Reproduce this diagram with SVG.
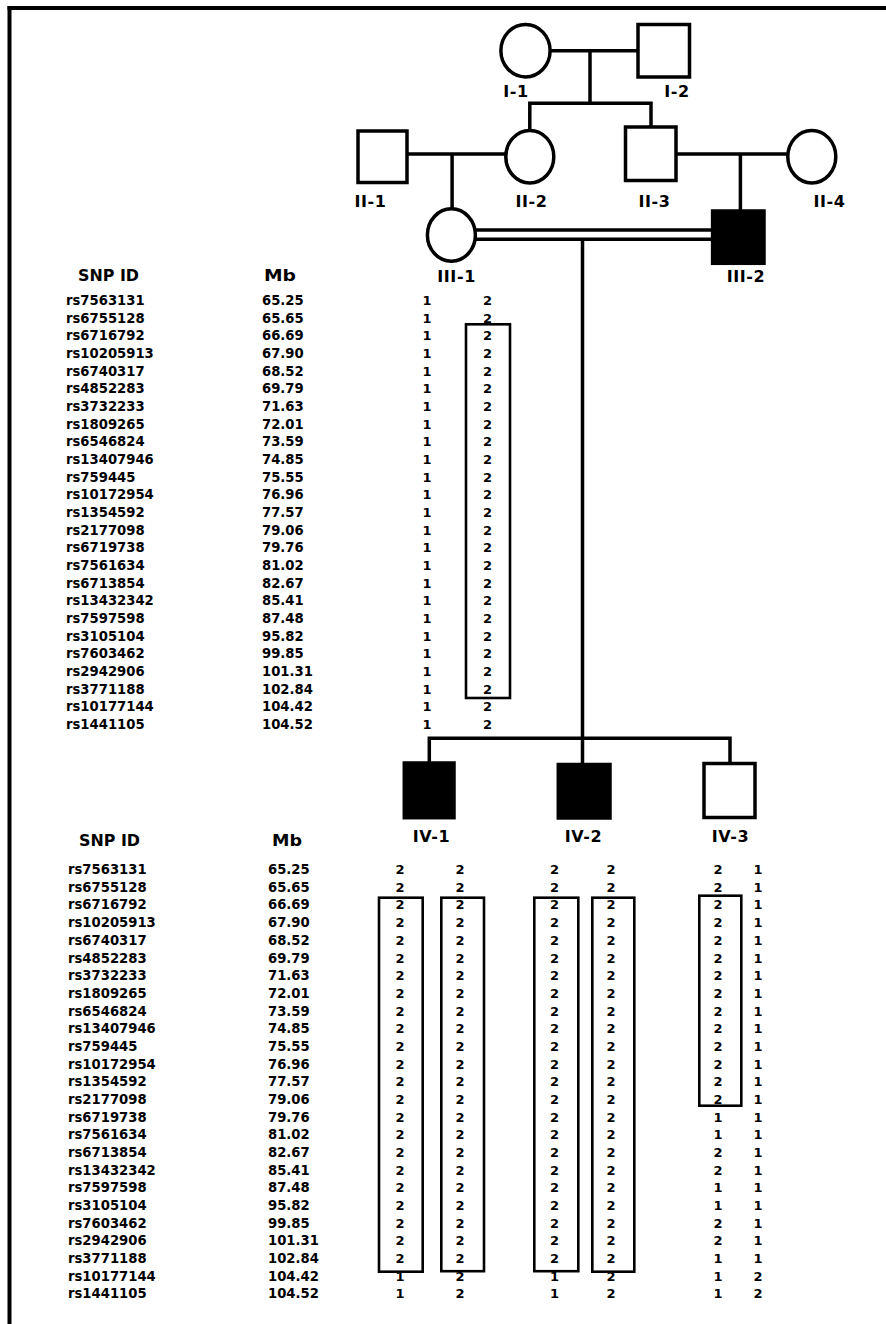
<svg xmlns="http://www.w3.org/2000/svg" width="886" height="1324" viewBox="0 0 886 1324">
<style>
.sh{fill:#fff;stroke:#000;stroke-width:3.5}
.af{fill:#000;stroke:#000;stroke-width:3.5}
.ln{fill:none;stroke:#000;stroke-width:3.5}
.bx{fill:none;stroke:#000;stroke-width:2.6}
.lb{font-family:"DejaVu Sans",Verdana,sans-serif;font-weight:bold;font-size:16px;letter-spacing:0.6px;fill:#000;text-anchor:middle}
.t{font-family:"DejaVu Sans",Verdana,sans-serif;font-weight:bold;font-size:13.2px;fill:#000}
.h{font-family:"DejaVu Sans",Verdana,sans-serif;font-weight:bold;font-size:15.5px;fill:#000}
.g{font-family:"DejaVu Sans",Verdana,sans-serif;font-weight:bold;font-size:13px;fill:#000;text-anchor:middle}
</style>
<rect width="886" height="1324" fill="#fff"/>
<g id="frame">
<line x1="7.5" y1="8" x2="886" y2="8" stroke="#000" stroke-width="4"/>
<line x1="9.5" y1="6" x2="9.5" y2="1324" stroke="#000" stroke-width="4"/>
</g>
<g id="connectors">
<polyline class="ln" points="551,50.7 638,50.7"/>
<polyline class="ln" points="590,50.7 590,103.3"/>
<polyline class="ln" points="529.8,130 529.8,103.3 651,103.3 651,126.7"/>
<polyline class="ln" points="407,154 505.4,154"/>
<polyline class="ln" points="452.1,154 452.1,208.3"/>
<polyline class="ln" points="676,154 787.4,154"/>
<polyline class="ln" points="740.4,154 740.4,210.7"/>
<polyline class="ln" points="475.8,230 712.6,230"/>
<polyline class="ln" points="475.8,239.3 712.6,239.3"/>
<polyline class="ln" points="582.5,239.3 582.5,764.3"/>
<polyline class="ln" points="429.3,762.7 429.3,738.3 730,738.3 730,763.3"/>
</g>
<g id="I-1"><ellipse class="sh" cx="525.5" cy="50.7" rx="24.6" ry="26.2"/><text class="lb" x="516" y="97">I-1</text></g>
<g id="I-2"><rect class="sh" x="638" y="24.5" width="51.5" height="52.5"/><text class="lb" x="677" y="97">I-2</text></g>
<g id="II-1"><rect class="sh" x="358" y="131" width="49" height="51.5"/><text class="lb" x="370.5" y="206.5">II-1</text></g>
<g id="II-2"><ellipse class="sh" cx="529.8" cy="156.7" rx="24" ry="26.2"/><text class="lb" x="531.5" y="206.5">II-2</text></g>
<g id="II-3"><rect class="sh" x="625.5" y="127" width="50.5" height="53.5"/><text class="lb" x="654.5" y="206.5">II-3</text></g>
<g id="II-4"><ellipse class="sh" cx="811.8" cy="156.7" rx="24" ry="26.2"/><text class="lb" x="829.5" y="206.5">II-4</text></g>
<g id="III-1"><ellipse class="sh" cx="451.4" cy="235" rx="24" ry="26.2"/><text class="lb" x="456.6" y="282">III-1</text></g>
<g id="III-2"><rect class="af" x="712.6" y="211" width="51.4" height="52.3"/><text class="lb" x="746" y="281.5">III-2</text></g>
<g id="IV-1"><rect class="af" x="404.3" y="763" width="49.7" height="54.7"/><text class="lb" x="431.5" y="841.5">IV-1</text></g>
<g id="IV-2"><rect class="af" x="558.3" y="764.5" width="51.7" height="53.5"/><text class="lb" x="583.5" y="841.5">IV-2</text></g>
<g id="IV-3"><rect class="sh" x="704" y="763.5" width="51" height="54"/><text class="lb" x="730.5" y="841.5">IV-3</text></g>
<g id="table-top">
<text class="h" x="78" y="280.5" textLength="61" lengthAdjust="spacingAndGlyphs">SNP ID</text>
<text class="h" x="264" y="280.5" textLength="32" lengthAdjust="spacingAndGlyphs">Mb</text>
<text class="t"><tspan x="66" y="304.8">rs7563131</tspan><tspan x="66" y="322.5">rs6755128</tspan><tspan x="66" y="340.1">rs6716792</tspan><tspan x="66" y="357.8">rs10205913</tspan><tspan x="66" y="375.5">rs6740317</tspan><tspan x="66" y="393.2">rs4852283</tspan><tspan x="66" y="410.8">rs3732233</tspan><tspan x="66" y="428.5">rs1809265</tspan><tspan x="66" y="446.2">rs6546824</tspan><tspan x="66" y="463.8">rs13407946</tspan><tspan x="66" y="481.5">rs759445</tspan><tspan x="66" y="499.2">rs10172954</tspan><tspan x="66" y="516.8">rs1354592</tspan><tspan x="66" y="534.5">rs2177098</tspan><tspan x="66" y="552.2">rs6719738</tspan><tspan x="66" y="569.9">rs7561634</tspan><tspan x="66" y="587.5">rs6713854</tspan><tspan x="66" y="605.2">rs13432342</tspan><tspan x="66" y="622.9">rs7597598</tspan><tspan x="66" y="640.5">rs3105104</tspan><tspan x="66" y="658.2">rs7603462</tspan><tspan x="66" y="675.9">rs2942906</tspan><tspan x="66" y="693.5">rs3771188</tspan><tspan x="66" y="711.2">rs10177144</tspan><tspan x="66" y="728.9">rs1441105</tspan></text>
<text class="t"><tspan x="262" y="304.8">65.25</tspan><tspan x="262" y="322.5">65.65</tspan><tspan x="262" y="340.1">66.69</tspan><tspan x="262" y="357.8">67.90</tspan><tspan x="262" y="375.5">68.52</tspan><tspan x="262" y="393.2">69.79</tspan><tspan x="262" y="410.8">71.63</tspan><tspan x="262" y="428.5">72.01</tspan><tspan x="262" y="446.2">73.59</tspan><tspan x="262" y="463.8">74.85</tspan><tspan x="262" y="481.5">75.55</tspan><tspan x="262" y="499.2">76.96</tspan><tspan x="262" y="516.8">77.57</tspan><tspan x="262" y="534.5">79.06</tspan><tspan x="262" y="552.2">79.76</tspan><tspan x="262" y="569.9">81.02</tspan><tspan x="262" y="587.5">82.67</tspan><tspan x="262" y="605.2">85.41</tspan><tspan x="262" y="622.9">87.48</tspan><tspan x="262" y="640.5">95.82</tspan><tspan x="262" y="658.2">99.85</tspan><tspan x="262" y="675.9">101.31</tspan><tspan x="262" y="693.5">102.84</tspan><tspan x="262" y="711.2">104.42</tspan><tspan x="262" y="728.9">104.52</tspan></text>
<text class="g" x="427 427 427 427 427 427 427 427 427 427 427 427 427 427 427 427 427 427 427 427 427 427 427 427 427" y="304.8 322.5 340.1 357.8 375.5 393.2 410.8 428.5 446.2 463.8 481.5 499.2 516.8 534.5 552.2 569.9 587.5 605.2 622.9 640.5 658.2 675.9 693.5 711.2 728.9">1111111111111111111111111</text>
<text class="g" x="487.5 487.5 487.5 487.5 487.5 487.5 487.5 487.5 487.5 487.5 487.5 487.5 487.5 487.5 487.5 487.5 487.5 487.5 487.5 487.5 487.5 487.5 487.5 487.5 487.5" y="304.8 322.5 340.1 357.8 375.5 393.2 410.8 428.5 446.2 463.8 481.5 499.2 516.8 534.5 552.2 569.9 587.5 605.2 622.9 640.5 658.2 675.9 693.5 711.2 728.9">2222222222222222222222222</text>
<rect class="bx" x="466" y="324.3" width="44" height="373.7"/>
</g>
<g id="table-bottom">
<text class="h" x="79" y="845.5" textLength="61" lengthAdjust="spacingAndGlyphs">SNP ID</text>
<text class="h" x="272" y="845.5" textLength="30" lengthAdjust="spacingAndGlyphs">Mb</text>
<text class="t"><tspan x="68" y="874.1">rs7563131</tspan><tspan x="68" y="891.8">rs6755128</tspan><tspan x="68" y="909.4">rs6716792</tspan><tspan x="68" y="927.1">rs10205913</tspan><tspan x="68" y="944.8">rs6740317</tspan><tspan x="68" y="962.5">rs4852283</tspan><tspan x="68" y="980.1">rs3732233</tspan><tspan x="68" y="997.8">rs1809265</tspan><tspan x="68" y="1015.5">rs6546824</tspan><tspan x="68" y="1033.1">rs13407946</tspan><tspan x="68" y="1050.8">rs759445</tspan><tspan x="68" y="1068.5">rs10172954</tspan><tspan x="68" y="1086.1">rs1354592</tspan><tspan x="68" y="1103.8">rs2177098</tspan><tspan x="68" y="1121.5">rs6719738</tspan><tspan x="68" y="1139.2">rs7561634</tspan><tspan x="68" y="1156.8">rs6713854</tspan><tspan x="68" y="1174.5">rs13432342</tspan><tspan x="68" y="1192.2">rs7597598</tspan><tspan x="68" y="1209.8">rs3105104</tspan><tspan x="68" y="1227.5">rs7603462</tspan><tspan x="68" y="1245.2">rs2942906</tspan><tspan x="68" y="1262.8">rs3771188</tspan><tspan x="68" y="1280.5">rs10177144</tspan><tspan x="68" y="1298.2">rs1441105</tspan></text>
<text class="t"><tspan x="268" y="874.1">65.25</tspan><tspan x="268" y="891.8">65.65</tspan><tspan x="268" y="909.4">66.69</tspan><tspan x="268" y="927.1">67.90</tspan><tspan x="268" y="944.8">68.52</tspan><tspan x="268" y="962.5">69.79</tspan><tspan x="268" y="980.1">71.63</tspan><tspan x="268" y="997.8">72.01</tspan><tspan x="268" y="1015.5">73.59</tspan><tspan x="268" y="1033.1">74.85</tspan><tspan x="268" y="1050.8">75.55</tspan><tspan x="268" y="1068.5">76.96</tspan><tspan x="268" y="1086.1">77.57</tspan><tspan x="268" y="1103.8">79.06</tspan><tspan x="268" y="1121.5">79.76</tspan><tspan x="268" y="1139.2">81.02</tspan><tspan x="268" y="1156.8">82.67</tspan><tspan x="268" y="1174.5">85.41</tspan><tspan x="268" y="1192.2">87.48</tspan><tspan x="268" y="1209.8">95.82</tspan><tspan x="268" y="1227.5">99.85</tspan><tspan x="268" y="1245.2">101.31</tspan><tspan x="268" y="1262.8">102.84</tspan><tspan x="268" y="1280.5">104.42</tspan><tspan x="268" y="1298.2">104.52</tspan></text>
<text class="g" x="400 400 400 400 400 400 400 400 400 400 400 400 400 400 400 400 400 400 400 400 400 400 400 400 400" y="874.1 891.8 909.4 927.1 944.8 962.5 980.1 997.8 1015.5 1033.1 1050.8 1068.5 1086.1 1103.8 1121.5 1139.2 1156.8 1174.5 1192.2 1209.8 1227.5 1245.2 1262.8 1280.5 1298.2">2222222222222222222222211</text>
<text class="g" x="460 460 460 460 460 460 460 460 460 460 460 460 460 460 460 460 460 460 460 460 460 460 460 460 460" y="874.1 891.8 909.4 927.1 944.8 962.5 980.1 997.8 1015.5 1033.1 1050.8 1068.5 1086.1 1103.8 1121.5 1139.2 1156.8 1174.5 1192.2 1209.8 1227.5 1245.2 1262.8 1280.5 1298.2">2222222222222222222222222</text>
<text class="g" x="554.5 554.5 554.5 554.5 554.5 554.5 554.5 554.5 554.5 554.5 554.5 554.5 554.5 554.5 554.5 554.5 554.5 554.5 554.5 554.5 554.5 554.5 554.5 554.5 554.5" y="874.1 891.8 909.4 927.1 944.8 962.5 980.1 997.8 1015.5 1033.1 1050.8 1068.5 1086.1 1103.8 1121.5 1139.2 1156.8 1174.5 1192.2 1209.8 1227.5 1245.2 1262.8 1280.5 1298.2">2222222222222222222222211</text>
<text class="g" x="611 611 611 611 611 611 611 611 611 611 611 611 611 611 611 611 611 611 611 611 611 611 611 611 611" y="874.1 891.8 909.4 927.1 944.8 962.5 980.1 997.8 1015.5 1033.1 1050.8 1068.5 1086.1 1103.8 1121.5 1139.2 1156.8 1174.5 1192.2 1209.8 1227.5 1245.2 1262.8 1280.5 1298.2">2222222222222222222222222</text>
<text class="g" x="718 718 718 718 718 718 718 718 718 718 718 718 718 718 718 718 718 718 718 718 718 718 718 718 718" y="874.1 891.8 909.4 927.1 944.8 962.5 980.1 997.8 1015.5 1033.1 1050.8 1068.5 1086.1 1103.8 1121.5 1139.2 1156.8 1174.5 1192.2 1209.8 1227.5 1245.2 1262.8 1280.5 1298.2">2222222222222211221122111</text>
<text class="g" x="758 758 758 758 758 758 758 758 758 758 758 758 758 758 758 758 758 758 758 758 758 758 758 758 758" y="874.1 891.8 909.4 927.1 944.8 962.5 980.1 997.8 1015.5 1033.1 1050.8 1068.5 1086.1 1103.8 1121.5 1139.2 1156.8 1174.5 1192.2 1209.8 1227.5 1245.2 1262.8 1280.5 1298.2">1111111111111111111111122</text>
<rect class="bx" x="379" y="897.7" width="43.7" height="374"/>
<rect class="bx" x="441.3" y="897.7" width="42.7" height="373.5"/>
<rect class="bx" x="534.3" y="897.7" width="44" height="373.5"/>
<rect class="bx" x="592.3" y="897.7" width="42" height="374"/>
<rect class="bx" x="699.3" y="895.7" width="42" height="210"/>
</g>
</svg>
